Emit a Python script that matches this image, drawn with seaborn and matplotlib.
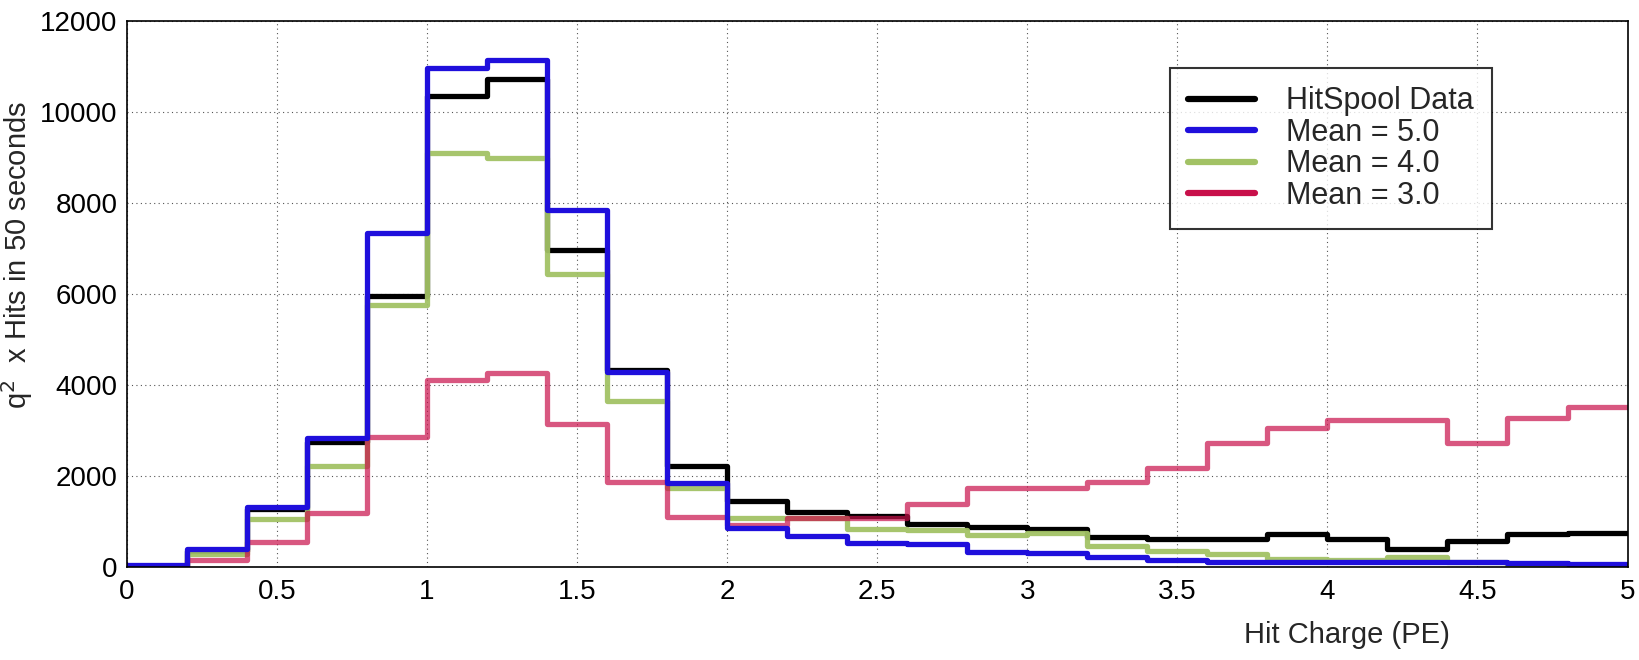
import numpy as np
import pandas as pd
import matplotlib
matplotlib.use('Agg')
import matplotlib.pyplot as plt
from matplotlib.lines import Line2D
from matplotlib.ticker import MultipleLocator
import seaborn as sns

# histogram binning (0.2 PE bins)
bin_edges = [0.0, 0.2, 0.4, 0.6, 0.8, 1.0, 1.2, 1.4, 1.6, 1.8, 2.0, 2.2, 2.4,
             2.6, 2.8, 3.0, 3.2, 3.4, 3.6, 3.8, 4.0, 4.2, 4.4, 4.6, 4.8, 5.0]

# bin contents
hitspool = [30, 350, 1280, 2750, 5950, 10350, 10720, 6970, 4340, 2230, 1460, 1210, 1120,
            950, 870, 840, 660, 605, 620, 720, 605, 400, 560, 735, 755]
mean_5 = [50, 400, 1310, 2830, 7350, 10960, 11150, 7850, 4280, 1850, 860, 680, 530,
          500, 335, 305, 220, 145, 110, 110, 105, 100, 100, 90, 60]
mean_4 = [20, 280, 1050, 2220, 5750, 9100, 9000, 6430, 3650, 1740, 1085, 1085, 840,
          810, 700, 740, 460, 350, 295, 165, 150, 210, 100, 15, 0]
mean_3 = [0, 150, 550, 1180, 2850, 4100, 4260, 3150, 1870, 1100, 920, 1080, 1070,
          1385, 1730, 1745, 1875, 2175, 2720, 3060, 3230, 3230, 2730, 3280, 3515]

series_names = ['HitSpool Data', 'Mean = 5.0', 'Mean = 4.0', 'Mean = 3.0']
series_values = [hitspool, mean_5, mean_4, mean_3]
colors = {'HitSpool Data': '#000000', 'Mean = 5.0': '#1f0fdc',
          'Mean = 4.0': '#a2c265', 'Mean = 3.0': '#c8104a'}
alphas = {'HitSpool Data': 1.0, 'Mean = 5.0': 1.0, 'Mean = 4.0': 0.95, 'Mean = 3.0': 0.7}
draw_order = ['HitSpool Data', 'Mean = 4.0', 'Mean = 3.0', 'Mean = 5.0']

centers = [(a + b) / 2 for a, b in zip(bin_edges[:-1], bin_edges[1:])]
frames = []
for name, vals in zip(series_names, series_values):
    frames.append(pd.DataFrame({'charge': centers, 'hits': vals, 'series': name}))
df = pd.concat(frames, ignore_index=True)

sns.set_theme(style='white')
plt.rcParams['font.family'] = ['Liberation Sans', 'DejaVu Sans']

fig = plt.figure(figsize=(16.39, 6.6), dpi=100)
ax = fig.add_axes([0.0775, 0.141, 0.9155, 0.827])

for name in draw_order:
    sns.histplot(data=df[df['series'] == name], x='charge', weights='hits',
                 bins=bin_edges, element='step', fill=False,
                 color=colors[name], linewidth=3.8, alpha=alphas[name], ax=ax)

ax.set_xlim(0, 5)
ax.set_ylim(0, 12000)
ax.xaxis.set_major_locator(MultipleLocator(0.5))
ax.xaxis.set_minor_locator(MultipleLocator(0.1))
ax.yaxis.set_major_locator(MultipleLocator(2000))
ax.yaxis.set_minor_locator(MultipleLocator(500))
ax.set_xticks([0, 0.5, 1, 1.5, 2, 2.5, 3, 3.5, 4, 4.5, 5])
ax.set_xticklabels(['0', '0.5', '1', '1.5', '2', '2.5', '3', '3.5', '4', '4.5', '5'])

ax.tick_params(axis='both', which='both', direction='in', colors='black',
               labelsize=20, width=1.0)
ax.tick_params(axis='y', which='major', length=45, pad=7)
ax.tick_params(axis='y', which='minor', length=22)
ax.tick_params(axis='x', which='major', length=16, pad=9)
ax.tick_params(axis='x', which='minor', length=8)

ax.grid(True, which='major', linestyle=(0, (1, 3)), color='#555555', linewidth=0.8)
for sp in ax.spines.values():
    sp.set_visible(True)
    sp.set_color('black')
    sp.set_linewidth(1.2)

ax.set_xlabel('Hit Charge (PE)', fontsize=21)
ax.xaxis.set_label_coords(0.813, -0.1245)
ax.xaxis.label.set_va('center')
ax.set_ylabel('q$^{2}$  x Hits in 50 seconds', fontsize=21)
ax.yaxis.set_label_coords(-0.0733, 0.571)
ax.yaxis.label.set_va('center')

handles = [Line2D([], [], color=colors[n], linewidth=4.5) for n in series_names]
leg = ax.legend(handles, series_names, loc='upper left', bbox_to_anchor=(0.695, 0.914),
                fontsize=22, frameon=True, fancybox=False, edgecolor='black',
                handlelength=2.2, handletextpad=1.0, borderpad=0.6, labelspacing=0.05,
                borderaxespad=0)
leg.get_frame().set_linewidth(1.5)

fig.savefig('out.png', dpi=100, facecolor='white')
